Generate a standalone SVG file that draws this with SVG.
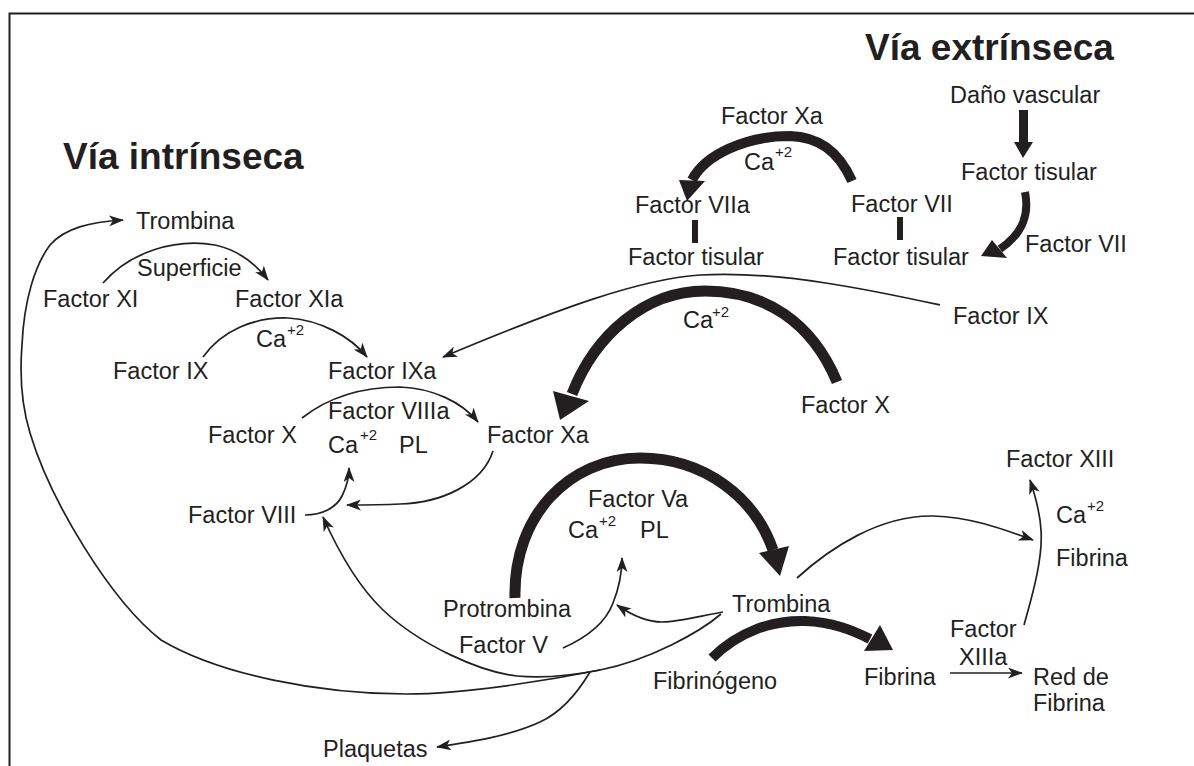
<svg xmlns="http://www.w3.org/2000/svg" width="1194" height="766" viewBox="0 0 1194 766">
<defs>
<style>
text{font-family:"Liberation Sans",Arial,sans-serif;font-size:23.5px;fill:#231f20}
.title{font-weight:bold;font-size:37px}
.sup{font-size:15px}
.thin{fill:none;stroke:#231f20;stroke-width:1.7;marker-end:url(#ah)}
.plain{fill:none;stroke:#231f20;stroke-width:1.7}
.thick{fill:none;stroke:#231f20}
.head{fill:#231f20}
</style>
<marker id="ah" markerUnits="userSpaceOnUse" markerWidth="15" markerHeight="11" refX="14" refY="5.5" orient="auto">
<path d="M0,0 L15,5.5 L0,11 L4,5.5 z" fill="#231f20"/>
</marker>
</defs>
<rect width="1194" height="766" fill="#fff"/>
<path d="M9.5,766 V13.5 H1194" fill="none" stroke="#231f20" stroke-width="2"/>

<g id="connectors">
<path class="thin" d="M103,283 C130,252 175,238 215,245 C238,250 255,263 268,280"/>
<path class="thin" d="M203,357 C222,330 255,317 288,318 C320,320 350,336 367,357"/>
<path class="thin" d="M302,418 C330,396 362,387 400,387 C432,388 462,402 478,422"/>
<path class="thin" d="M493,451 C482,485 440,503 400,504 C380,505 365,505 347,505"/>
<path class="thin" d="M305,515 C322,515 336,508 342,496 C347,486 349,478 349,468"/>
<path class="thin" d="M940,305 C880,292 780,270 700,275 C640,279 560,308 443,357"/>
<path class="plain" d="M721,614 C700,632 650,660 600,670"/>
<path class="thin" d="M600,670 C560,678 470,694 406,694 C320,694 220,675 161,640 C110,600 50,500 30,433 C20,400 20,370 22,345 C24,300 35,265 50,245 C65,228 90,222 123,220"/>
<path class="thin" d="M600,670 C570,676 540,678 517,676 C480,672 420,645 383,610 C360,588 340,555 323,517"/>
<path class="thin" d="M590,672 C578,692 562,712 540,722 C510,736 470,742 437,747"/>
<path class="thin" d="M563,648 C590,636 606,622 613,603 C619,588 622,575 622,558"/>
<path class="thin" d="M723,612 C700,616 680,622 662,622 C646,622 630,614 617,605"/>
<path class="thin" d="M797,578 C830,548 880,515 933,516 C970,517 1000,528 1033,540"/>
<path class="thin" d="M1024,625 C1034,590 1043,556 1041,530 C1040,512 1035,495 1030,480"/>
<path class="thin" d="M950,673 L1022,673"/>

<path class="thick" stroke-width="10" d="M852,181 C838,150 818,137 790,136 C745,136 705,155 692,180"/>
<polygon class="head" points="679,180 705,181 687,201"/>
<path class="thick" stroke-width="8" d="M1025,192 C1029,212 1025,232 1000,249"/>
<polygon class="head" points="992,240 1007,258 981,256"/>
<rect class="head" x="1019" y="110" width="9" height="33"/>
<polygon class="head" points="1014,142 1033,142 1023,158"/>
<path class="thick" stroke-width="11" d="M837,382 C812,322 765,291 705,291 C645,291 595,335 572,394"/>
<polygon class="head" points="553,391 589,401 560,420"/>
<path class="thick" stroke-width="11" d="M515,598 C513,515 570,458 640,458 C705,458 755,498 773,550"/>
<polygon class="head" points="759,553 789,546 780,576"/>
<path class="thick" stroke-width="10" d="M712,658 C738,632 772,620 805,621 C832,622 852,630 870,639"/>
<polygon class="head" points="880,625 864,651 893,650"/>
<rect class="head" x="692" y="220" width="6" height="23"/>
<rect class="head" x="897" y="217" width="6" height="23"/>
</g>

<g id="titles">
<text class="title" x="63" y="169">Vía intrínseca</text>
<text class="title" x="865" y="60">Vía extrínseca</text>
</g>

<g id="n-trombina-top"><text x="136" y="229">Trombina</text></g>
<g id="n-superficie"><text x="137" y="276">Superficie</text></g>
<g id="n-factor-xi"><text x="43" y="307">Factor XI</text></g>
<g id="n-factor-xia"><text x="235" y="307">Factor XIa</text></g>
<g id="n-ca-1"><text x="256" y="347">Ca</text><text class="sup" x="287" y="335">+2</text></g>
<g id="n-factor-ix"><text x="113" y="379">Factor IX</text></g>
<g id="n-factor-ixa"><text x="328" y="379">Factor IXa</text></g>
<g id="n-factor-viiia"><text x="328" y="419">Factor VIIIa</text></g>
<g id="n-factor-x-left"><text x="208" y="443">Factor X</text></g>
<g id="n-ca-2"><text x="328" y="453">Ca</text><text class="sup" x="360" y="440">+2</text></g>
<g id="n-pl-1"><text x="399" y="453">PL</text></g>
<g id="n-factor-xa"><text x="487" y="443">Factor Xa</text></g>
<g id="n-factor-viii"><text x="188" y="523">Factor VIII</text></g>

<g id="n-factor-xa-top"><text x="721" y="124">Factor Xa</text></g>
<g id="n-ca-3"><text x="744" y="170">Ca</text><text class="sup" x="775" y="157">+2</text></g>
<g id="n-factor-viia"><text x="635" y="213">Factor VIIa</text></g>
<g id="n-factor-vii-mid"><text x="851" y="212">Factor VII</text></g>
<g id="n-tisular-1"><text x="628" y="265">Factor tisular</text></g>
<g id="n-tisular-2"><text x="833" y="265">Factor tisular</text></g>
<g id="n-dano"><text x="950" y="103">Daño vascular</text></g>
<g id="n-tisular-3"><text x="961" y="180">Factor tisular</text></g>
<g id="n-factor-vii-right"><text x="1025" y="252">Factor VII</text></g>
<g id="n-factor-ix-right"><text x="953" y="324">Factor IX</text></g>
<g id="n-ca-4"><text x="683" y="328">Ca</text><text class="sup" x="712" y="317">+2</text></g>
<g id="n-factor-x-right"><text x="801" y="413">Factor X</text></g>

<g id="n-factor-xiii"><text x="1006" y="467">Factor XIII</text></g>
<g id="n-ca-5"><text x="1056" y="523">Ca</text><text class="sup" x="1087" y="511">+2</text></g>
<g id="n-fibrina-right"><text x="1056" y="566">Fibrina</text></g>
<g id="n-factor-va"><text x="588" y="507">Factor Va</text></g>
<g id="n-ca-6"><text x="568" y="538">Ca</text><text class="sup" x="599" y="526">+2</text></g>
<g id="n-pl-2"><text x="640" y="538">PL</text></g>
<g id="n-protrombina"><text x="443" y="617">Protrombina</text></g>
<g id="n-trombina"><text x="732" y="612">Trombina</text></g>
<g id="n-factor-v"><text x="459" y="653">Factor V</text></g>
<g id="n-fibrinogeno"><text x="653" y="689">Fibrinógeno</text></g>
<g id="n-fibrina"><text x="864" y="685">Fibrina</text></g>
<g id="n-factor-xiiia"><text x="950" y="637">Factor</text><text x="959" y="665">XIIIa</text></g>
<g id="n-red"><text x="1033" y="685">Red de</text><text x="1033" y="711">Fibrina</text></g>
<g id="n-plaquetas"><text x="323" y="757">Plaquetas</text></g>
</svg>
